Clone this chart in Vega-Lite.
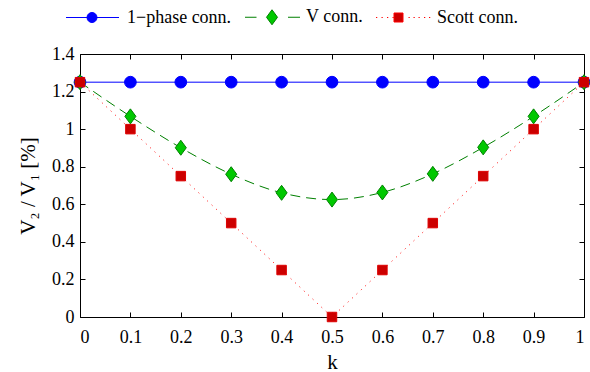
{
  "$schema": "https://vega.github.io/schema/vega-lite/v6.json",
  "width": 504,
  "height": 263,
  "autosize": "none",
  "padding": {"left": 80, "top": 54, "right": 6, "bottom": 55},
  "background": "white",
  "config": {
    "view": {"stroke": null},
    "font": "Liberation Serif",
    "axis": {
      "labelFont": "Liberation Serif", "titleFont": "Liberation Serif",
      "labelFontSize": 18, "titleFontSize": 21, "titleFontWeight": "normal",
      "labelColor": "black", "titleColor": "black",
      "domainColor": "black", "tickColor": "black", "domainWidth": 1, "tickWidth": 1,
      "grid": false
    },
    "legend": {
      "orient": "none", "legendX": -23, "legendY": -46, "direction": "horizontal",
      "labelFont": "Liberation Serif", "labelFontSize": 18, "labelColor": "black",
      "labelOffset": 52, "symbolSize": 100, "symbolStrokeWidth": 1, "symbolOpacity": 1,
      "columnPadding": 4, "padding": 0, "labelLimit": 300
    }
  },
  "data": {"values": [
    {"series": "1−phase conn.", "k": 0, "v": 1.25},
    {"series": "1−phase conn.", "k": 0.1, "v": 1.25},
    {"series": "1−phase conn.", "k": 0.2, "v": 1.25},
    {"series": "1−phase conn.", "k": 0.3, "v": 1.25},
    {"series": "1−phase conn.", "k": 0.4, "v": 1.25},
    {"series": "1−phase conn.", "k": 0.5, "v": 1.25},
    {"series": "1−phase conn.", "k": 0.6, "v": 1.25},
    {"series": "1−phase conn.", "k": 0.7, "v": 1.25},
    {"series": "1−phase conn.", "k": 0.8, "v": 1.25},
    {"series": "1−phase conn.", "k": 0.9, "v": 1.25},
    {"series": "1−phase conn.", "k": 1, "v": 1.25},
    {"series": "V conn.", "k": 0, "v": 1.25},
    {"series": "V conn.", "k": 0.1, "v": 1.068},
    {"series": "V conn.", "k": 0.2, "v": 0.901},
    {"series": "V conn.", "k": 0.3, "v": 0.76},
    {"series": "V conn.", "k": 0.4, "v": 0.661},
    {"series": "V conn.", "k": 0.5, "v": 0.625},
    {"series": "V conn.", "k": 0.6, "v": 0.663},
    {"series": "V conn.", "k": 0.7, "v": 0.762},
    {"series": "V conn.", "k": 0.8, "v": 0.903},
    {"series": "V conn.", "k": 0.9, "v": 1.068},
    {"series": "V conn.", "k": 1, "v": 1.25},
    {"series": "Scott conn.", "k": 0, "v": 1.25},
    {"series": "Scott conn.", "k": 0.1, "v": 1.0},
    {"series": "Scott conn.", "k": 0.2, "v": 0.75},
    {"series": "Scott conn.", "k": 0.3, "v": 0.5},
    {"series": "Scott conn.", "k": 0.4, "v": 0.25},
    {"series": "Scott conn.", "k": 0.5, "v": 0.0},
    {"series": "Scott conn.", "k": 0.6, "v": 0.25},
    {"series": "Scott conn.", "k": 0.7, "v": 0.5},
    {"series": "Scott conn.", "k": 0.8, "v": 0.75},
    {"series": "Scott conn.", "k": 0.9, "v": 1.0},
    {"series": "Scott conn.", "k": 1, "v": 1.25}
  ]},
  "resolve": {"axis": {"x": "independent", "y": "independent"}},
  "layer": [
    {
      "transform": [{"filter": "datum.series === '1−phase conn.'"}],
      "mark": {"type": "line", "color": "#0000ff", "strokeWidth": 1},
      "encoding": {
        "x": {"field": "k", "type": "quantitative", "scale": {"domain": [0, 1], "nice": false},
              "axis": {"orient": "bottom", "values": [0, 0.1, 0.2, 0.3, 0.4, 0.5, 0.6, 0.7, 0.8, 0.9, 1], "format": "~g",
                       "title": "k", "tickSize": -5, "labelPadding": 16, "titlePadding": 5}},
        "y": {"field": "v", "type": "quantitative", "scale": {"domain": [0, 1.4], "nice": false},
              "axis": {"orient": "left", "values": [0, 0.2, 0.4, 0.6, 0.8, 1, 1.2, 1.4], "format": "~g",
                       "title": "V₂ / V₁ [%]", "tickSize": -5, "labelPadding": 11, "titlePadding": 13}}
      }
    },
    {
      "transform": [{"filter": "datum.series === 'V conn.'"}],
      "mark": {"type": "line", "color": "#008000", "strokeWidth": 1, "strokeDash": [10, 6], "interpolate": "monotone"},
      "encoding": {
        "x": {"field": "k", "type": "quantitative", "axis": null},
        "y": {"field": "v", "type": "quantitative", "axis": null}
      }
    },
    {
      "transform": [{"filter": "datum.series === 'Scott conn.'"}],
      "mark": {"type": "line", "color": "#ff0000", "strokeWidth": 1, "strokeDash": [1, 5]},
      "encoding": {
        "x": {"field": "k", "type": "quantitative", "axis": null},
        "y": {"field": "v", "type": "quantitative", "axis": null}
      }
    },
    {
      "transform": [{"filter": "datum.series === '1−phase conn.'"}],
      "mark": {"type": "point", "shape": "circle", "filled": true, "size": 137, "fill": "#0000ff", "stroke": "#0000ff", "strokeWidth": 1, "opacity": 1},
      "encoding": {
        "x": {"field": "k", "type": "quantitative", "axis": null},
        "y": {"field": "v", "type": "quantitative", "axis": null}
      }
    },
    {
      "transform": [{"filter": "datum.series === 'V conn.'"}],
      "mark": {"type": "point", "shape": "M0,-1.25L0.92,0L0,1.25L-0.92,0Z", "filled": true, "size": 144, "fill": "#00c800", "stroke": "#008000", "strokeWidth": 1, "opacity": 1},
      "encoding": {
        "x": {"field": "k", "type": "quantitative", "axis": null},
        "y": {"field": "v", "type": "quantitative", "axis": null}
      }
    },
    {
      "transform": [{"filter": "datum.series === 'Scott conn.'"}],
      "mark": {"type": "point", "shape": "square", "filled": true, "size": 90, "fill": "#cc0000", "stroke": "#dd0000", "strokeWidth": 1, "opacity": 1},
      "encoding": {
        "x": {"field": "k", "type": "quantitative", "axis": null},
        "y": {"field": "v", "type": "quantitative", "axis": null}
      }
    },
    {
      "mark": {"type": "point", "filled": true, "opacity": 0},
      "encoding": {
        "x": {"field": "k", "type": "quantitative",
              "axis": {"orient": "top", "values": [0, 0.1, 0.2, 0.3, 0.4, 0.5, 0.6, 0.7, 0.8, 0.9, 1], "labels": false, "title": null, "tickSize": -5}},
        "y": {"field": "v", "type": "quantitative",
              "axis": {"orient": "right", "values": [0, 0.2, 0.4, 0.6, 0.8, 1, 1.2, 1.4], "labels": false, "title": null, "tickSize": -5}},
        "color": {"field": "series", "type": "nominal", "title": null,
                  "scale": {"domain": ["1−phase conn.", "V conn.", "Scott conn."], "range": ["#0000ff", "#00c800", "#cc0000"]}},
        "stroke": {"field": "series", "type": "nominal", "title": null,
                   "scale": {"domain": ["1−phase conn.", "V conn.", "Scott conn."], "range": ["#0000ff", "#008000", "#ff0000"]}},
        "shape": {"field": "series", "type": "nominal", "title": null,
                  "scale": {"domain": ["1−phase conn.", "V conn.", "Scott conn."],
                            "range": [
                              "M0,0H10.6M4.2,0A1,1,0,1,1,6.2,0A1,1,0,1,1,4.2,0Z",
                              "M0,0H2.3M8.6,0H11M5.4,-1.5L6.5,0L5.4,1.5L4.3,0Z",
                              "M0,0H0.25M1.1,0H1.35M2.2,0H2.45M3.3,0H3.55M6.5,0H6.75M7.5,0H7.75M8.5,0H8.75M9.6,0H9.85M10.6,0H10.85M3.6,-0.9H5.4V0.9H3.6Z"
                            ]}}
      }
    }
  ]
}
